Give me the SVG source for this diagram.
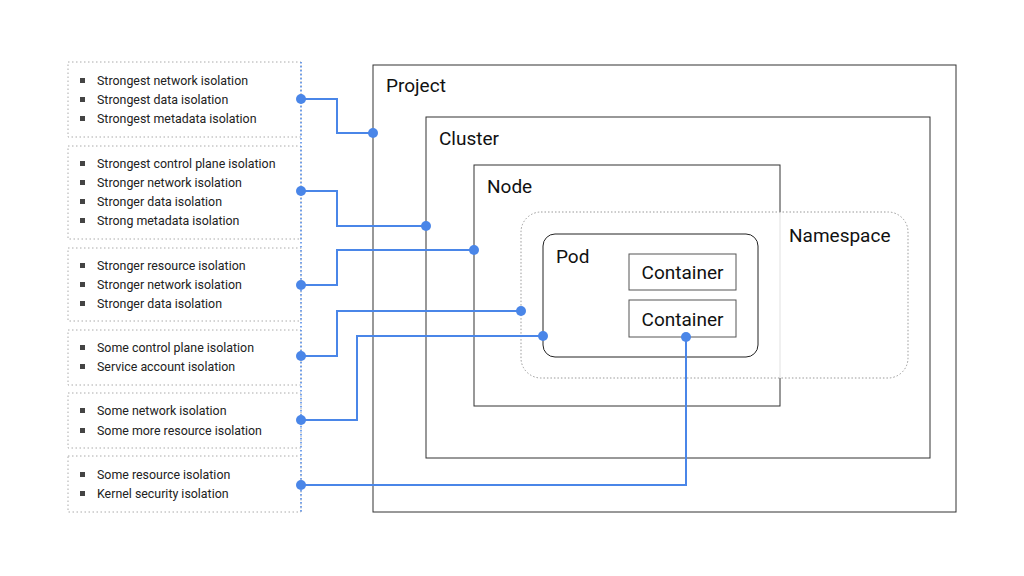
<svg xmlns="http://www.w3.org/2000/svg" width="1024" height="576" viewBox="0 0 1024 576">
<style>
.li{font-family:Roboto,"Liberation Sans",sans-serif;font-size:12.4px;fill:#222}
.lb{font-family:Roboto,"Liberation Sans",sans-serif;font-size:19px;fill:#111}
.cl{font-family:Roboto,"Liberation Sans",sans-serif;font-size:19px;fill:#111}
.pn{fill:none;stroke:#aaa;stroke-width:1;stroke-dasharray:1.5 2.5}
.c{fill:none;stroke:#4a86e8;stroke-width:2}
.d{fill:#4a86e8}
.bx{fill:none;stroke:#222;stroke-width:1}
</style>
<rect width="1024" height="576" fill="#fff"/>
<g id="lists">
<rect class="pn" x="68" y="62" width="233" height="75"/>
<rect class="pn" x="68" y="146" width="233" height="93"/>
<rect class="pn" x="68" y="248" width="233" height="73"/>
<rect class="pn" x="68" y="330" width="233" height="55"/>
<rect class="pn" x="68" y="393" width="233" height="55"/>
<rect class="pn" x="68" y="456" width="233" height="56"/>
<line x1="301" y1="62" x2="301" y2="512" stroke="#4a86e8" stroke-width="1.5" stroke-dasharray="1.5 2.5"/>
<g fill="#444">
<rect x="80" y="78" width="5" height="5"/><rect x="80" y="97" width="5" height="5"/><rect x="80" y="116" width="5" height="5"/>
<rect x="80" y="161" width="5" height="5"/><rect x="80" y="180" width="5" height="5"/><rect x="80" y="199" width="5" height="5"/><rect x="80" y="218" width="5" height="5"/>
<rect x="80" y="263" width="5" height="5"/><rect x="80" y="282" width="5" height="5"/><rect x="80" y="301" width="5" height="5"/>
<rect x="80" y="345" width="5" height="5"/><rect x="80" y="364" width="5" height="5"/>
<rect x="80" y="408" width="5" height="5"/><rect x="80" y="428" width="5" height="5"/>
<rect x="80" y="472" width="5" height="5"/><rect x="80" y="491" width="5" height="5"/>
</g>
<text class="li" x="97" y="85">Strongest network isolation</text>
<text class="li" x="97" y="104">Strongest data isolation</text>
<text class="li" x="97" y="123">Strongest metadata isolation</text>
<text class="li" x="97" y="168">Strongest control plane isolation</text>
<text class="li" x="97" y="187">Stronger network isolation</text>
<text class="li" x="97" y="206">Stronger data isolation</text>
<text class="li" x="97" y="225">Strong metadata isolation</text>
<text class="li" x="97" y="270">Stronger resource isolation</text>
<text class="li" x="97" y="289">Stronger network isolation</text>
<text class="li" x="97" y="308">Stronger data isolation</text>
<text class="li" x="97" y="352">Some control plane isolation</text>
<text class="li" x="97" y="371">Service account isolation</text>
<text class="li" x="97" y="415">Some network isolation</text>
<text class="li" x="97" y="435">Some more resource isolation</text>
<text class="li" x="97" y="479">Some resource isolation</text>
<text class="li" x="97" y="498">Kernel security isolation</text>
</g>
<g id="project"><rect x="373" y="65" width="583" height="447" fill="none" stroke="#333"/><text class="lb" x="386" y="92">Project</text></g>
<g id="cluster"><rect x="426" y="117" width="504" height="341" fill="none" stroke="#333"/><text class="lb" x="439" y="145">Cluster</text></g>
<g id="node"><rect x="474" y="165" width="306" height="241" fill="none" stroke="#333"/><text class="lb" x="487" y="193">Node</text></g>
<g id="namespace"><rect x="521" y="212" width="387" height="166" rx="20" fill="#fff" fill-opacity="0.85" stroke="#999" stroke-dasharray="1.5 2"/><text class="lb" x="789" y="242">Namespace</text></g>
<g id="pod"><rect x="543" y="234" width="215" height="123" rx="12" class="bx" fill="#fff"/><text class="cl" x="556" y="263">Pod</text></g>
<g id="container1"><rect x="629" y="254" width="107" height="36" fill="#fff" stroke="#555"/><text class="cl" x="682.5" y="279" text-anchor="middle">Container</text></g>
<g id="container2"><rect x="629" y="300" width="107" height="37" fill="#fff" stroke="#555"/><text class="cl" x="682.5" y="326" text-anchor="middle">Container</text></g>
<g id="connectors">
<path class="c" d="M301 99H337V133H373"/>
<path class="c" d="M301 191H337V226H426"/>
<path class="c" d="M301 285H337V250H474"/>
<path class="c" d="M301 356H337V311H521"/>
<path class="c" d="M301 420H357V336H543"/>
<path class="c" d="M301 485H686V337"/>
<g class="d">
<circle cx="301" cy="99" r="5"/><circle cx="373" cy="133" r="5"/>
<circle cx="301" cy="191" r="5"/><circle cx="426" cy="226" r="5"/>
<circle cx="301" cy="285" r="5"/><circle cx="474" cy="250" r="5"/>
<circle cx="301" cy="356" r="5"/><circle cx="521" cy="311" r="5"/>
<circle cx="301" cy="420" r="5"/><circle cx="543" cy="336" r="5"/>
<circle cx="301" cy="485" r="5"/><circle cx="686" cy="337" r="5"/>
</g>
</g>
</svg>
